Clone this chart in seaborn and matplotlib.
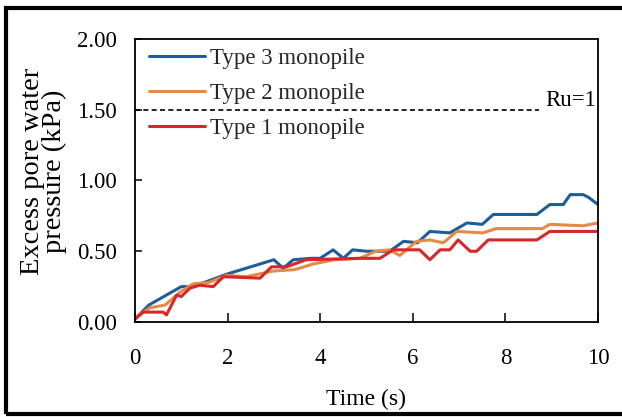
import matplotlib
matplotlib.use("Agg")
import matplotlib.pyplot as plt
from matplotlib.patches import Rectangle
import numpy as np
import pandas as pd
import seaborn as sns

# Excess pore water pressure histories (kPa) for the three monopile types
t_type3 = [0.0, 0.3, 1.0, 1.25, 2.0, 2.5, 3.0, 3.2, 3.42, 3.8, 4.0, 4.28, 4.5, 4.7,
           5.0, 5.5, 5.8, 6.1, 6.37, 6.8, 7.17, 7.5, 7.74, 8.0, 8.68, 8.96, 9.25,
           9.4, 9.68, 9.8, 10.0]
p_type3 = [0.02, 0.12, 0.25, 0.25, 0.34, 0.39, 0.44, 0.38, 0.44, 0.45, 0.45, 0.51,
           0.45, 0.51, 0.50, 0.50, 0.57, 0.56, 0.64, 0.63, 0.70, 0.69, 0.76, 0.76,
           0.76, 0.83, 0.83, 0.90, 0.90, 0.88, 0.83]

t_type2 = [0.0, 0.32, 0.65, 0.97, 1.26, 1.6, 1.98, 2.4, 2.98, 3.45, 3.85, 4.3, 4.86,
           5.2, 5.5, 5.72, 6.08, 6.37, 6.66, 6.95, 7.52, 7.8, 8.8, 8.96, 9.68, 10.0]
p_type2 = [0.03, 0.10, 0.12, 0.21, 0.27, 0.28, 0.33, 0.32, 0.36, 0.37, 0.41, 0.44,
           0.45, 0.50, 0.51, 0.47, 0.57, 0.58, 0.56, 0.64, 0.63, 0.66, 0.66, 0.69,
           0.68, 0.70]

t_type1 = [0.0, 0.18, 0.61, 0.68, 0.9, 1.0, 1.19, 1.4, 1.69, 1.91, 2.7, 2.95, 3.27,
           3.7, 4.86, 5.29, 5.58, 6.15, 6.37, 6.59, 6.8, 6.98, 7.24, 7.38, 7.63,
           8.68, 8.96, 10.0]
p_type1 = [0.02, 0.07, 0.07, 0.05, 0.19, 0.18, 0.24, 0.26, 0.25, 0.32, 0.31, 0.39,
           0.39, 0.44, 0.45, 0.45, 0.51, 0.51, 0.44, 0.51, 0.51, 0.58, 0.50, 0.50,
           0.58, 0.58, 0.64, 0.64]

series_names = ["Type 3 monopile", "Type 2 monopile", "Type 1 monopile"]
series_colors = ["#1f5c99", "#e58a45", "#d9262a"]

ru_level = 1.5          # pore pressure at Ru = 1
ru_label = "Ru=1"

x_ticks = [0, 2, 4, 6, 8, 10]
y_ticks = [0.0, 0.5, 1.0, 1.5, 2.0]
y_tick_labels = ["0.00", "0.50", "1.00", "1.50", "2.00"]

frames = []
for name, t, p in zip(series_names, [t_type3, t_type2, t_type1],
                      [p_type3, p_type2, p_type1]):
    frames.append(pd.DataFrame({"Time": t, "Pressure": p, "Series": name}))
df = pd.concat(frames, ignore_index=True)

sns.set_theme(style="white")
plt.rcParams["font.family"] = ["Liberation Serif", "DejaVu Serif"]

fig = plt.figure(figsize=(6.22, 4.17), dpi=100)
ax = fig.add_axes([0.217, 0.2278, 0.7444, 0.6787])

sns.lineplot(data=df, x="Time", y="Pressure", hue="Series",
             hue_order=series_names, palette=dict(zip(series_names, series_colors)),
             estimator=None, linewidth=2.2, ax=ax)

ax.axhline(ru_level, xmin=0, xmax=0.872, color="black", linestyle=(0, (3, 2.0)),
           linewidth=1.2)
ax.text(9.96, ru_level + 0.025, ru_label, ha="right", va="baseline",
        fontsize=16.5, color="black")

ax.set_xlim(0, 10)
ax.set_ylim(0, 2.0)
ax.set_xticks(x_ticks)
ax.set_xticklabels([str(v) for v in x_ticks])
ax.set_yticks(y_ticks)
ax.set_yticklabels(y_tick_labels)

ax.tick_params(axis="x", direction="in", length=6.5, width=1.1, pad=19,
               labelsize=16.5, colors="black", bottom=True, top=False)
ax.tick_params(axis="y", direction="in", length=5, width=1.1, pad=13,
               labelsize=16.5, colors="black", left=True, right=False)
for s in ax.spines.values():
    s.set_color("black")
    s.set_linewidth(1.3)
    s.set_visible(True)

ax.set_xlabel("Time (s)", fontsize=17, color="black")
ax.xaxis.set_label_coords(0.5, -0.235)
ax.set_ylabel("Excess pore water\npressure (kPa)", fontsize=20.5, color="black",
              linespacing=0.86)
ax.yaxis.label.set_va("center")
ax.yaxis.set_label_coords(-0.198, 0.534)

sns.move_legend(ax, "upper left", bbox_to_anchor=(0.030, 0.968), frameon=False,
                title=None, fontsize=16.5, handlelength=2.45, handletextpad=0.2,
                labelspacing=0.6, borderaxespad=0, borderpad=0)

# outer frame around the figure
fig.patches.append(Rectangle((0.0096, 0.0072), 1.05, 0.974,
                             transform=fig.transFigure, fill=False,
                             edgecolor="black", linewidth=3.0, clip_on=False))

fig.savefig("out.png", dpi=100)
